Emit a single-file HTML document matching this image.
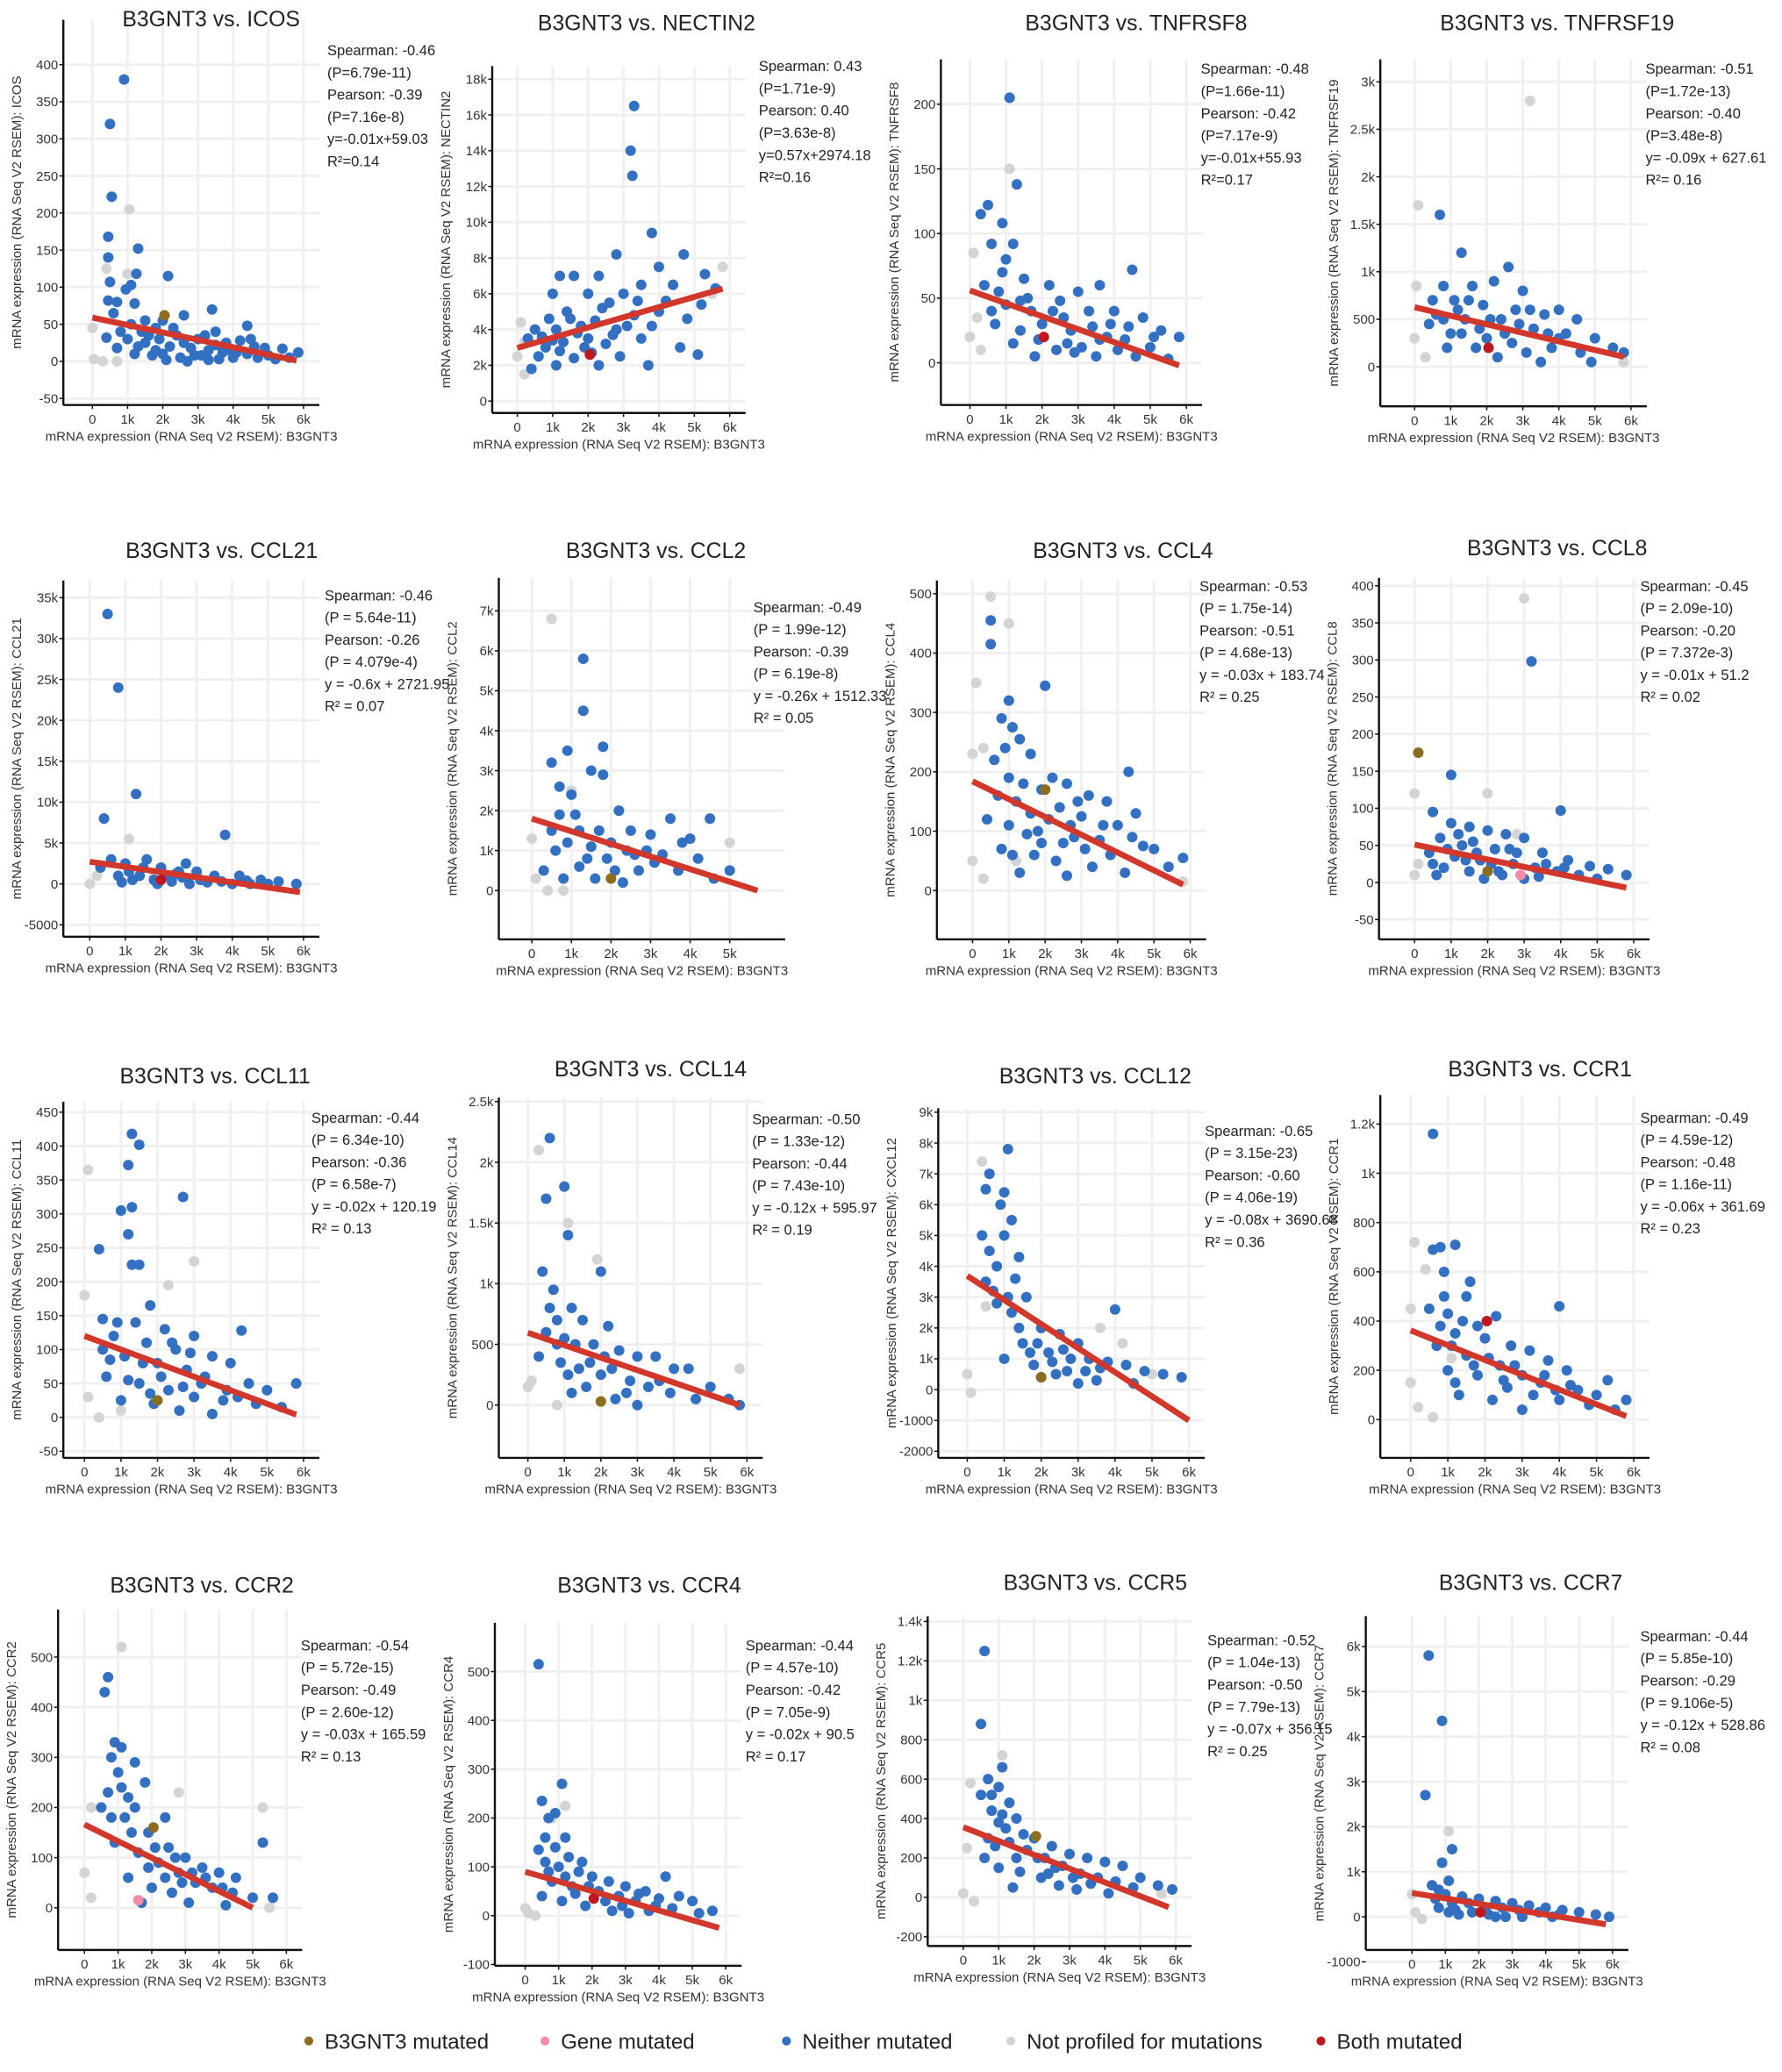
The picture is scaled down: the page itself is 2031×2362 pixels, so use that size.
<!DOCTYPE html>
<html><head><meta charset="utf-8"><style>
html,body{margin:0;padding:0;background:#fff;}
svg{display:block;font-family:"Liberation Sans",Arial,sans-serif;}
</style></head><body>
<svg id="fig" width="2031" height="2362" viewBox="0 0 1350.4 1570.5" xmlns="http://www.w3.org/2000/svg"></svg>
<script>
// ---- data (x in thousands, y in panel units) ----
const p1Blue=[[0.9,380],[0.5,320],[0.55,222],[0.45,168],[0.45,140],[1.3,152],[1.25,118],[2.15,115],[0.5,107],[1.1,103],[0.95,97],[0.45,82],[0.7,80],[1.2,78],[0.6,65],[3.4,70],[2.6,62],[4.4,48],[1.5,55],[2.0,55],[1.8,45],[3.5,40],[3.0,30],[0.4,32],[1.0,30],[1.5,25],[2.2,20],[2.8,18],[3.3,15],[3.8,25],[4.2,28],[4.5,30],[4.9,18],[5.4,17],[5.85,12],[1.2,10],[1.7,8],[2.5,5],[3.1,8],[4.0,5],[4.7,5],[5.2,3],[2.0,10],[0.7,18],[1.4,40],[2.4,35],[3.7,12],[2.7,0],[3.6,3],[4.4,10],[1.9,30],[1.1,50],[1.6,35],[2.3,45],[2.6,25],[3.2,35],[3.9,15],[4.6,20],[5.0,8],[1.3,20],[2.9,8],[3.5,22],[4.1,12],[1.8,15],[0.8,40],[2.1,2],[3.3,2],[5.6,5]];
const p1Gray=[[1.05,205],[0.4,125],[1.0,118],[0,45],[0.05,3],[0.3,0],[0.7,0]];
const p1Mut=[[2.05,62,'b']];
const p1Line=[59,1,5.8];
const p2Blue=[[3.3,16.5],[3.2,14],[3.25,12.6],[3.8,9.4],[4.7,8.2],[2.8,8.2],[4.0,7.5],[5.3,7.1],[1.6,7.0],[1.2,7.0],[2.3,7.0],[3.5,6.5],[4.4,6.5],[5.6,6.3],[1.0,6.0],[2.0,6.0],[3.0,6.0],[2.6,5.5],[4.2,5.6],[5.2,5.4],[1.4,5.0],[0.9,4.6],[2.2,4.5],[3.3,4.8],[4.8,4.6],[0.5,4.0],[1.1,4.0],[1.8,4.2],[2.8,4.0],[3.8,4.2],[0.3,3.5],[1.3,3.3],[2.0,3.5],[2.5,3.2],[3.5,3.5],[4.6,3.0],[5.1,2.6],[0.6,2.5],[1.6,2.4],[2.9,2.5],[0.4,1.8],[1.1,2.0],[2.3,2.0],[3.7,2.0],[1.9,3.0],[0.8,3.0],[1.5,4.6],[2.4,5.2],[3.1,4.2],[1.2,2.8],[2.7,3.7],[1.7,3.8],[0.7,3.6],[4.0,5.0],[2.1,2.7],[3.4,5.6],[1.0,3.4]];
const p2Gray=[[0.1,4.4],[0.2,3.3],[5.8,7.5],[0,2.5],[0.2,1.5],[5.5,6.0]];
const p2Mut=[[2.05,2.6,'r']];
const p2Line=[2.974,6.28,5.8];
const p3Blue=[[1.1,205],[1.3,138],[0.5,122],[0.9,108],[0.3,115],[1.2,92],[0.6,92],[4.5,72],[1.5,65],[2.2,60],[3.0,55],[3.6,60],[0.4,60],[0.8,55],[1.0,45],[1.7,40],[2.5,48],[3.3,40],[4.0,40],[4.8,35],[5.3,25],[5.8,20],[1.4,25],[2.0,30],[2.8,25],[3.8,20],[4.3,18],[5.0,12],[0.7,30],[1.2,15],[2.4,10],[3.1,12],[3.5,5],[4.6,5],[5.5,3],[1.8,5],[0.9,70],[2.6,35],[3.9,30],[1.6,50],[1.0,80],[1.9,18],[2.3,40],[2.9,8],[3.4,28],[4.1,10],[0.6,40],[1.4,48],[2.7,15],[3.6,18],[4.4,28],[5.1,20]];
const p3Gray=[[1.1,150],[0.1,85],[0,20],[0.3,10],[0.2,35]];
const p3Mut=[[2.05,20,'r']];
const p3Line=[56,-2,5.8];
const p4Blue=[[0.7,1.6],[1.3,1.2],[2.6,1.05],[0.8,0.85],[1.6,0.85],[2.2,0.9],[3.0,0.8],[4.0,0.6],[3.6,0.55],[0.5,0.7],[1.1,0.7],[1.9,0.65],[2.8,0.6],[4.5,0.5],[1.4,0.5],[2.4,0.5],[3.3,0.4],[4.2,0.35],[5.0,0.3],[5.5,0.2],[5.8,0.15],[0.4,0.45],[1.0,0.35],[2.0,0.3],[2.7,0.25],[3.8,0.2],[4.6,0.15],[1.7,0.2],[3.1,0.15],[0.9,0.2],[2.3,0.1],[3.5,0.05],[4.9,0.05],[0.6,0.55],[1.2,0.6],[1.5,0.7],[2.1,0.5],[2.5,0.35],[3.2,0.6],[1.8,0.4],[0.8,0.5],[2.9,0.45],[4.0,0.3],[1.3,0.35],[3.7,0.35]];
const p4Gray=[[3.2,2.8],[0.1,1.7],[0.05,0.85],[0,0.3],[0.3,0.1],[5.8,0.05]];
const p4Mut=[[2.05,0.2,'r']];
const p4Line=[0.627,0.105,5.8];
const p5Blue=[[0.5,33],[0.8,24],[1.3,11],[0.4,8],[3.8,6],[0.6,3],[1.0,2.5],[1.5,2],[2.0,2],[2.5,1.5],[3.0,1.5],[3.5,1],[4.2,1],[4.8,0.5],[5.3,0.3],[5.8,0],[0.8,1],[1.2,0.5],[1.8,0.5],[2.3,0.3],[2.8,0],[3.3,0.2],[4.0,0],[4.5,0],[1.6,3],[2.7,2.5],[0.3,2],[2.1,1],[1.1,1.5],[1.4,1],[2.6,0.8],[3.1,0.5],[3.7,0.3],[0.9,0.2],[1.9,0],[4.4,0.4],[5.0,0],[2.4,1.2]];
const p5Gray=[[1.1,5.5],[0.2,1],[0,0],[1.8,1]];
const p5Mut=[[2.0,0.5,'r']];
const p5Line=[2.72,-1.0,5.9];
const p6Blue=[[1.3,5.8],[1.3,4.5],[0.9,3.5],[1.8,3.6],[0.5,3.2],[1.5,3.0],[1.8,2.9],[0.7,2.6],[1.0,2.4],[2.2,2.0],[3.5,1.8],[4.5,1.8],[3.0,1.4],[4.0,1.3],[0.5,1.5],[1.2,1.5],[2.5,1.5],[3.3,0.9],[4.2,0.8],[5.0,0.5],[0.6,1.0],[1.4,0.8],[1.9,0.8],[2.7,0.5],[3.7,0.5],[4.6,0.3],[0.8,0.3],[1.6,0.3],[2.3,0.2],[0.3,0.5],[2.0,1.2],[2.9,1.0],[3.8,1.2],[1.1,1.9],[1.7,1.5],[2.4,1.0],[0.9,1.2],[1.5,1.1],[2.6,0.9],[3.1,0.7],[1.2,0.6],[2.1,0.5],[0.7,1.9]];
const p6Gray=[[0.5,6.8],[1.0,2.5],[0,1.3],[0.1,0.3],[0.4,0],[0.8,0],[5.0,1.2]];
const p6Mut=[[2.0,0.3,'b']];
const p6Line=[1.8,0.0,5.7];
const p7Blue=[[0.5,455],[0.5,415],[1.0,320],[0.8,290],[1.1,275],[2.0,345],[1.3,255],[1.6,230],[2.2,190],[4.3,200],[2.6,180],[0.6,220],[1.9,170],[3.2,160],[3.7,150],[4.5,130],[0.7,160],[1.2,150],[2.4,140],[3.0,125],[4.0,110],[5.0,70],[5.8,55],[0.4,120],[1.0,110],[1.5,95],[2.8,90],[3.5,85],[4.7,75],[5.4,40],[0.8,70],[1.7,60],[2.3,50],[3.3,40],[4.2,30],[1.3,30],[2.6,25],[1.9,80],[1.0,190],[1.4,180],[2.1,120],[2.7,110],[3.1,70],[3.8,60],[1.1,60],[1.6,130],[2.9,150],[3.6,110],[4.4,90],[0.9,240],[2.5,80],[1.8,100]];
const p7Gray=[[0.5,495],[1.0,450],[0.1,350],[0,230],[0.3,240],[0,50],[0.3,20],[1.2,50],[5.8,15]];
const p7Mut=[[2.0,170,'b']];
const p7Line=[184,10,5.8];
const p8Blue=[[3.2,298],[1.0,145],[4.0,97],[0.5,95],[1.0,80],[1.5,75],[2.0,70],[2.5,65],[3.0,60],[0.7,60],[1.3,50],[2.2,45],[3.5,40],[4.2,30],[4.8,22],[5.3,18],[5.8,10],[0.4,40],[1.1,35],[1.8,30],[2.7,25],[3.3,20],[3.9,15],[4.5,10],[5.0,5],[0.8,20],[1.5,15],[2.4,10],[3.0,5],[1.9,5],[0.6,10],[2.8,40],[1.6,55],[1.2,65],[2.1,25],[2.6,45],[3.6,25],[1.4,30],[0.9,45],[2.3,15],[3.4,8],[4.1,20],[1.7,40],[0.5,25]];
const p8Gray=[[3.0,383],[0,120],[0.1,25],[0,10],[2.0,120],[2.8,65]];
const p8Mut=[[0.1,175,'b'],[2.0,15,'b'],[2.9,10,'p']];
const p8Line=[51,-7,5.8];
const p9Blue=[[1.3,418],[1.5,402],[1.2,372],[1.0,305],[1.3,310],[2.7,325],[1.3,225],[1.5,225],[0.4,248],[1.2,270],[1.8,165],[0.5,145],[0.9,140],[1.4,140],[2.2,130],[4.3,128],[3.0,120],[0.8,120],[1.7,110],[2.5,100],[3.5,90],[4.0,80],[1.1,90],[2.0,80],[2.8,70],[3.3,60],[4.5,50],[5.0,40],[5.8,50],[0.6,60],[1.5,50],[2.3,40],[3.0,30],[3.8,25],[4.7,20],[5.4,15],[1.0,25],[1.9,20],[2.6,10],[3.5,5],[0.5,100],[1.6,80],[2.1,60],[2.4,110],[3.2,50],[3.9,40],[1.2,55],[0.7,85],[2.9,95],[4.2,30],[1.8,35],[2.7,45]];
const p9Gray=[[0.1,365],[2.3,195],[3.0,230],[0,180],[0.1,30],[0.4,0],[1.0,10]];
const p9Mut=[[2.0,25,'b']];
const p9Line=[120,4,5.8];
const p10Blue=[[0.6,2.2],[0.5,1.7],[1.0,1.8],[1.1,1.4],[2.0,1.1],[0.4,1.1],[0.7,0.95],[1.2,0.8],[0.8,0.7],[1.5,0.7],[2.2,0.65],[0.5,0.6],[1.0,0.55],[1.8,0.5],[2.5,0.45],[3.0,0.4],[3.5,0.4],[4.0,0.3],[4.4,0.3],[5.0,0.15],[5.5,0.05],[5.8,0],[0.9,0.35],[1.4,0.3],[2.0,0.25],[2.8,0.2],[3.3,0.15],[3.9,0.1],[4.6,0.05],[1.2,0.1],[2.4,0.05],[3.0,0.0],[0.3,0.4],[1.6,0.15],[0.6,0.8],[1.3,0.5],[1.7,0.35],[2.3,0.3],[2.7,0.1],[3.6,0.2],[1.1,0.25],[0.8,0.5],[2.1,0.4]];
const p10Gray=[[0.3,2.1],[1.1,1.5],[0.1,0.2],[0,0.15],[1.9,1.2],[5.8,0.3],[0.8,0.0]];
const p10Mut=[[2.0,0.03,'b']];
const p10Line=[0.596,0.0,5.8];
const p11Blue=[[1.1,7.8],[0.6,7.0],[0.5,6.5],[1.0,6.4],[0.9,6.0],[1.2,5.5],[0.4,5.0],[1.0,5.0],[0.6,4.5],[1.4,4.3],[0.8,4.0],[1.3,3.6],[0.5,3.5],[1.6,3.0],[0.8,2.8],[1.2,2.5],[2.0,2.0],[2.5,1.8],[3.0,1.5],[4.0,2.6],[1.5,1.5],[2.2,1.2],[2.8,1.0],[3.3,1.0],[3.8,0.9],[4.3,0.8],[4.8,0.6],[5.3,0.5],[5.8,0.4],[1.8,0.8],[2.4,0.5],[3.5,0.3],[4.5,0.2],[1.0,1.0],[2.0,0.4],[3.0,0.2],[1.4,2.0],[1.7,1.2],[2.3,0.9],[2.7,0.6],[3.2,0.6],[0.7,3.2],[1.1,3.0],[2.6,1.3],[3.6,0.7],[1.9,1.5]];
const p11Gray=[[0.4,7.4],[0.5,2.7],[0,0.5],[0.1,-0.1],[3.6,2.0],[4.2,1.5],[5.0,0.5]];
const p11Mut=[[2.0,0.4,'b']];
const p11Line=[3.69,-1.0,6.0];
const p12Blue=[[0.6,1160],[0.8,700],[0.6,690],[1.2,710],[0.9,600],[1.5,500],[2.3,420],[4.0,460],[0.5,450],[1.0,430],[1.8,380],[1.2,350],[2.0,330],[2.7,300],[3.2,280],[3.7,240],[4.2,200],[5.3,160],[5.8,80],[0.7,300],[1.5,260],[2.4,220],[3.0,180],[3.5,150],[4.5,120],[5.0,100],[1.0,200],[1.8,180],[2.6,130],[3.3,100],[4.0,80],[4.8,60],[5.5,40],[1.3,100],[2.2,80],[3.0,40],[0.9,500],[1.6,560],[1.1,300],[1.4,400],[2.1,250],[2.8,220],[3.6,180],[4.3,140],[0.8,380],[1.7,220],[2.5,160],[3.9,120],[1.2,150]];
const p12Gray=[[0.1,720],[0.4,610],[0,450],[1.1,250],[0,150],[0.2,50],[0.6,10]];
const p12Mut=[[2.05,400,'r']];
const p12Line=[362,14,5.8];
const p13Blue=[[0.7,460],[0.6,430],[0.9,330],[1.1,320],[0.8,300],[1.5,290],[1.0,270],[1.8,250],[0.7,230],[1.3,220],[2.4,180],[0.5,200],[1.2,180],[1.9,150],[2.5,120],[3.0,100],[3.5,80],[4.0,70],[4.5,60],[5.3,130],[5.6,20],[0.9,130],[1.6,110],[2.2,90],[2.8,70],[3.3,50],[3.8,40],[4.4,30],[5.0,20],[1.3,60],[2.0,40],[2.6,30],[3.1,10],[4.2,5],[1.7,10],[2.9,50],[1.1,240],[1.4,150],[2.1,120],[2.7,100],[3.6,60],[4.1,40],[0.8,180],[1.9,80],[2.4,60],[3.2,70],[1.5,200]];
const p13Gray=[[1.1,520],[0.2,200],[0,70],[0.2,20],[2.8,230],[5.3,200],[5.5,0]];
const p13Mut=[[2.05,160,'b'],[1.6,15,'p']];
const p13Line=[166,0,5.0];
const p14Blue=[[0.4,515],[1.1,270],[0.5,235],[0.7,200],[1.2,160],[0.9,140],[0.4,135],[1.3,120],[0.6,110],[1.0,100],[1.6,90],[2.0,80],[2.5,70],[3.0,60],[3.6,50],[4.2,80],[4.6,40],[5.0,30],[5.6,10],[0.8,70],[1.4,60],[2.2,50],[2.8,40],[3.3,30],[3.9,20],[4.4,15],[5.2,5],[1.1,30],[1.8,20],[2.6,10],[3.1,5],[0.5,40],[1.7,110],[0.9,210],[1.2,80],[1.9,60],[2.4,30],[3.4,45],[4.0,35],[0.7,90],[1.5,45],[2.9,20],[3.7,10],[0.6,160]];
const p14Gray=[[1.2,225],[0,15],[0.1,5],[0.3,0],[0.8,200]];
const p14Mut=[[2.05,35,'r']];
const p14Line=[90,-25,5.8];
const p15Blue=[[0.6,1250],[0.5,880],[1.1,660],[0.7,600],[1.0,560],[0.5,520],[1.3,480],[0.8,440],[1.5,400],[1.0,380],[2.0,300],[2.5,260],[3.0,220],[3.5,200],[4.0,180],[4.5,160],[5.0,100],[5.5,60],[5.9,40],[0.7,300],[1.3,280],[1.8,240],[2.3,200],[2.8,160],[3.3,120],[3.8,100],[4.3,80],[4.8,50],[1.0,150],[1.6,130],[2.2,100],[2.7,60],[3.2,40],[4.1,20],[1.4,50],[0.6,200],[1.2,350],[1.7,320],[2.1,200],[2.6,150],[3.1,100],[3.6,70],[0.9,260],[1.5,200],[2.4,120],[0.8,520],[1.1,420]];
const p15Gray=[[1.1,720],[0.2,580],[0.1,250],[0,20],[0.3,-20],[5.6,20]];
const p15Mut=[[2.05,310,'b']];
const p15Line=[356,-50,5.8];
const p16Blue=[[0.5,5.8],[0.9,4.35],[0.4,2.7],[1.2,1.5],[0.9,1.2],[0.6,0.7],[1.0,0.5],[1.5,0.45],[2.0,0.4],[2.5,0.35],[3.0,0.3],[3.5,0.25],[4.0,0.2],[4.5,0.15],[5.0,0.1],[5.5,0.05],[5.9,0],[0.8,0.2],[1.3,0.15],[1.8,0.1],[2.3,0.05],[2.8,0],[3.3,0.0],[4.2,0],[1.1,0.8],[0.7,0.4],[1.2,0.3],[1.7,0.3],[2.2,0.2],[2.7,0.2],[3.2,0.15],[3.8,0.1],[4.4,0.05],[1.4,0.05],[2.5,0.0],[0.8,0.6],[1.1,0.1]];
const p16Gray=[[1.1,1.9],[0,0.5],[0.1,0.1],[0.3,-0.05]];
const p16Mut=[[2.05,0.1,'r']];
const p16Line=[0.529,-0.167,5.8];

const titles=["B3GNT3 vs. ICOS","B3GNT3 vs. NECTIN2","B3GNT3 vs. TNFRSF8","B3GNT3 vs. TNFRSF19","B3GNT3 vs. CCL21","B3GNT3 vs. CCL2","B3GNT3 vs. CCL4","B3GNT3 vs. CCL8","B3GNT3 vs. CCL11","B3GNT3 vs. CCL14","B3GNT3 vs. CCL12","B3GNT3 vs. CCR1","B3GNT3 vs. CCR2","B3GNT3 vs. CCR4","B3GNT3 vs. CCR5","B3GNT3 vs. CCR7"];
const genes=["ICOS","NECTIN2","TNFRSF8","TNFRSF19","CCL21","CCL2","CCL4","CCL8","CCL11","CCL14","CXCL12","CCR1","CCR2","CCR4","CCR5","CCR7"];
const stats=[
["Spearman: -0.46","(P=6.79e-11)","Pearson: -0.39","(P=7.16e-8)","y=-0.01x+59.03","R²=0.14"],
["Spearman: 0.43","(P=1.71e-9)","Pearson: 0.40","(P=3.63e-8)","y=0.57x+2974.18","R²=0.16"],
["Spearman: -0.48","(P=1.66e-11)","Pearson: -0.42","(P=7.17e-9)","y=-0.01x+55.93","R²=0.17"],
["Spearman: -0.51","(P=1.72e-13)","Pearson: -0.40","(P=3.48e-8)","y= -0.09x + 627.61"," R²= 0.16"],
["Spearman: -0.46","(P = 5.64e-11)","Pearson: -0.26","(P = 4.079e-4)","y = -0.6x + 2721.95","R² = 0.07"],
["Spearman: -0.49","(P = 1.99e-12)","Pearson: -0.39","(P = 6.19e-8)","y = -0.26x + 1512.33","R² = 0.05"],
["Spearman: -0.53","(P = 1.75e-14)","Pearson: -0.51","(P = 4.68e-13)","y = -0.03x + 183.74","R² = 0.25"],
["Spearman: -0.45","(P = 2.09e-10)","Pearson: -0.20","(P = 7.372e-3)","y = -0.01x + 51.2","R² = 0.02"],
["Spearman: -0.44","(P = 6.34e-10)","Pearson: -0.36","(P = 6.58e-7)","y = -0.02x + 120.19","R² = 0.13"],
["Spearman: -0.50","(P = 1.33e-12)","Pearson: -0.44","(P = 7.43e-10)","y = -0.12x + 595.97","R² = 0.19"],
["Spearman: -0.65","(P = 3.15e-23)","Pearson: -0.60","(P = 4.06e-19)","y = -0.08x + 3690.68","R² = 0.36"],
["Spearman: -0.49","(P = 4.59e-12)","Pearson: -0.48","(P = 1.16e-11)","y = -0.06x + 361.69","R² = 0.23"],
["Spearman: -0.54","(P = 5.72e-15)","Pearson: -0.49","(P = 2.60e-12)","y = -0.03x + 165.59","R² = 0.13"],
["Spearman: -0.44","(P = 4.57e-10)","Pearson: -0.42","(P = 7.05e-9)","y = -0.02x + 90.5","R² = 0.17"],
["Spearman: -0.52","(P = 1.04e-13)","Pearson: -0.50","(P = 7.79e-13)","y = -0.07x + 356.15","R² = 0.25"],
["Spearman: -0.44","(P = 5.85e-10)","Pearson: -0.29","(P = 9.106e-5)","y = -0.12x + 528.86","R² = 0.08"]];
const yTickVals=[
[-50,0,50,100,150,200,250,300,350,400],[0,2,4,6,8,10,12,14,16,18],[0,50,100,150,200],[0,0.5,1,1.5,2,2.5,3],
[-5,0,5,10,15,20,25,30,35],[0,1,2,3,4,5,6,7],[0,100,200,300,400,500],[-50,0,50,100,150,200,250,300,350,400],
[-50,0,50,100,150,200,250,300,350,400,450],[0,0.5,1,1.5,2,2.5],[-2,-1,0,1,2,3,4,5,6,7,8,9],[0,200,400,600,800,1000,1200],
[0,100,200,300,400,500],[-100,0,100,200,300,400,500],[-200,0,200,400,600,800,1000,1200,1400],[-1,0,1,2,3,4,5,6]];
const yTickLabels=[
["-50","0","50","100","150","200","250","300","350","400"],["0","2k","4k","6k","8k","10k","12k","14k","16k","18k"],["0","50","100","150","200"],["0","500","1k","1.5k","2k","2.5k","3k"],
["-5000","0","5k","10k","15k","20k","25k","30k","35k"],["0","1k","2k","3k","4k","5k","6k","7k"],["0","100","200","300","400","500"],["-50","0","50","100","150","200","250","300","350","400"],
["-50","0","50","100","150","200","250","300","350","400","450"],["0","500","1k","1.5k","2k","2.5k"],["-2000","-1000","0","1k","2k","3k","4k","5k","6k","7k","8k","9k"],["0","200","400","600","800","1k","1.2k"],
["0","100","200","300","400","500"],["-100","0","100","200","300","400","500"],["-200","0","200","400","600","800","1k","1.2k","1.4k"],["-1000","0","1k","2k","3k","4k","5k","6k"]];
const xTickLabels=["0","1k","2k","3k","4k","5k","6k"];
const blues=[p1Blue,p2Blue,p3Blue,p4Blue,p5Blue,p6Blue,p7Blue,p8Blue,p9Blue,p10Blue,p11Blue,p12Blue,p13Blue,p14Blue,p15Blue,p16Blue];
const grays=[p1Gray,p2Gray,p3Gray,p4Gray,p5Gray,p6Gray,p7Gray,p8Gray,p9Gray,p10Gray,p11Gray,p12Gray,p13Gray,p14Gray,p15Gray,p16Gray];
const muts=[p1Mut,p2Mut,p3Mut,p4Mut,p5Mut,p6Mut,p7Mut,p8Mut,p9Mut,p10Mut,p11Mut,p12Mut,p13Mut,p14Mut,p15Mut,p16Mut];
const lines=[p1Line,p2Line,p3Line,p4Line,p5Line,p6Line,p7Line,p8Line,p9Line,p10Line,p11Line,p12Line,p13Line,p14Line,p15Line,p16Line];

// ---- layout (display units)
const L=[
[48,15,307,70,26.67,400,49,-50,302,160,20,248,42,7],
[373,50,313,392,26.83,18,60,0,304,490,23,575,54,7],
[713,45,307,735,27.33,200,79,0,275,861,23,910,56,7],
[1046,45,308,1072,27.33,3,62,0,278,1180,23,1247,56,7],
[48,440,710,68,27,35,453,-5,701,168,423,246,455,7],
[378,438,712,403,30,7,463,0,675,497,423,571,464,6],
[710,440,712,737,27.5,500,450,0,675,851,423,909,448,7],
[1045,438,712,1072,27.67,400,444,-50,697,1180,421,1243,448,7],
[48,835,1105,64,27.67,450,843,-50,1100,163,821,236,851,7],
[378,832,1105,400,27.67,2.5,835,0,1065,493,816,570,852,7],
[711,840,1105,733,28,9,843,-2,1100,830,821,913,861,7],
[1046,830,1105,1069,28.17,1200,852,0,1076,1167,816,1243,851,7],
[44,1220,1478,64,25.5,500,1256,0,1446,153,1207,228,1251,7],
[375,1230,1490,398,25.33,500,1267,-100,1489,492,1207,565,1251,7],
[703,1225,1475,730,26.83,1400,1229,-200,1468,830,1205,915,1247,7],
[1035,1225,1478,1070,25.33,6,1248,-1,1487,1160,1205,1243,1244,7]];

const NS="http://www.w3.org/2000/svg";
const svg=document.getElementById('fig');
function mk(tag,attrs,parent,txt){const e=document.createElementNS(NS,tag);for(const k in attrs)e.setAttribute(k,attrs[k]);if(txt!==undefined)e.textContent=txt;(parent||svg).appendChild(e);return e;}
const COL={b:'#8a6d1f',r:'#c0161e',p:'#f28cab'};
const R=4;

for(let i=0;i<16;i++){
  const [ax,top,bot,px0,ppk,va,pa,vb,pb,tx,ty,sx,sy,nx]=L[i];
  const X=v=>px0+v*ppk;
  const Y=v=>pa+(v-va)*(pb-pa)/(vb-va);
  const g=mk('g',{});
  
  
  const right=X(6)+12;
  for(let k=0;k<nx;k++){const gl=mk('line',{x1:X(k),x2:X(k),y1:top,y2:bot,stroke:'#f0f0f0','stroke-width':2},g);}
  yTickVals[i].forEach(v=>{const gl=mk('line',{x1:ax,x2:right,y1:Y(v),y2:Y(v),stroke:'#f0f0f0','stroke-width':2},g);});
  const t=mk('text',{x:tx,y:ty,'text-anchor':'middle','font-size':16.5,fill:'#222'},g,titles[i]);
  
  grays[i].forEach(p=>{const c=mk('circle',{cx:X(p[0]),cy:Y(p[1]),r:R,fill:'#d4d4d4'},g);});
  blues[i].forEach(p=>{const c=mk('circle',{cx:X(p[0]),cy:Y(p[1]),r:R,fill:'#3370c2'},g);});
  const ln=lines[i];
  const rl=mk('line',{x1:X(0),y1:Y(ln[0]),x2:X(ln[2]),y2:Y(ln[1]),stroke:'#d2372b','stroke-width':4.5,'stroke-linecap':'butt'},g);
  
  muts[i].forEach(p=>{const c=mk('circle',{cx:X(p[0]),cy:Y(p[1]),r:R,fill:COL[p[2]]},g);});
  const ya=mk('line',{x1:ax,x2:ax,y1:top,y2:bot,stroke:'#111','stroke-width':1.6},g);
  const xa=mk('line',{x1:ax,x2:right,y1:bot,y2:bot,stroke:'#111','stroke-width':1.6},g);
  yTickVals[i].forEach((v,j)=>{
    mk('line',{x1:ax-3,x2:ax,y1:Y(v),y2:Y(v),stroke:'#111','stroke-width':1},g);
    const tl=mk('text',{x:ax-4,y:Y(v)+3.5,'text-anchor':'end','font-size':10,fill:'#333'},g,yTickLabels[i][j]);
    
  });
  for(let k=0;k<nx;k++){
    mk('line',{x1:X(k),x2:X(k),y1:bot,y2:bot+3,stroke:'#111','stroke-width':1},g);
    const tl=mk('text',{x:X(k),y:bot+14,'text-anchor':'middle','font-size':10,fill:'#333'},g,xTickLabels[k]);
    
  }
  const xl=mk('text',{x:(ax+right)/2,y:bot+27,'text-anchor':'middle','font-size':10,fill:'#333'},g,'mRNA expression (RNA Seq V2 RSEM): B3GNT3');
  
  const cy=(top+bot)/2, lx=ax-32;
  const yl=mk('text',{x:lx,y:cy,'text-anchor':'middle','font-size':10,fill:'#333',transform:`rotate(-90 ${lx} ${cy})`},g,'mRNA expression (RNA Seq V2 RSEM): '+genes[i]);
  
  stats[i].forEach((s,j)=>{const st=mk('text',{x:sx,y:sy+j*16.8,'font-size':11,fill:'#222'},g,s);});
}
const legItems=[["B3GNT3 mutated",'#8a6d1f',234],["Gene mutated",'#f28cab',413],["Neither mutated",'#3370c2',596],["Not profiled for mutations",'#d4d4d4',766],["Both mutated",'#c0161e',1001]];
const lg=mk('g',{});

legItems.forEach(it=>{
  const e=mk('g',{},lg);
  
  mk('circle',{cx:it[2],cy:1547,r:3.4,fill:it[1]},e);
  mk('text',{x:it[2]+12,y:1553,'font-size':16,fill:'#222'},e,it[0]);
});
</script>
</body></html>
